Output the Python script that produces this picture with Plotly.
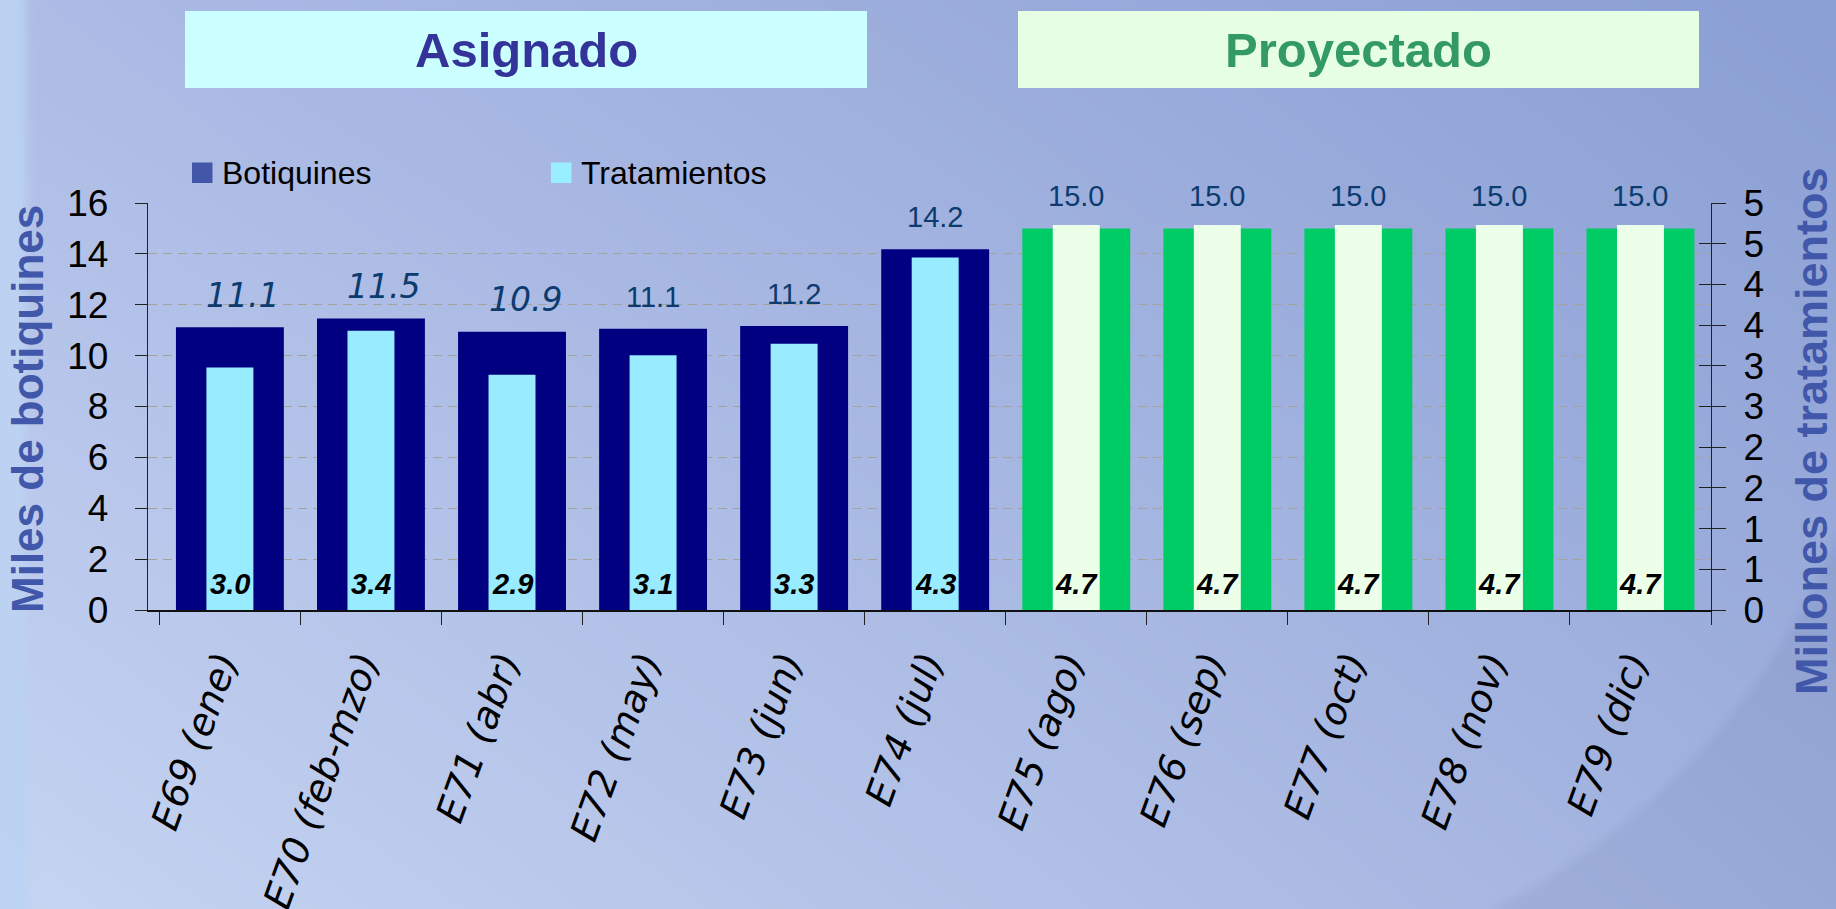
import base64
import struct
import zlib

import numpy as np
import plotly.graph_objects as go

# ---------------- data ----------------
categories = ["E69 (ene)", "E70 (feb-mzo)", "E71 (abr)", "E72 (may)", "E73 (jun)",
              "E74 (jul)", "E75 (ago)", "E76 (sep)", "E77 (oct)", "E78 (nov)", "E79 (dic)"]
botiquines = [11.12, 11.46, 10.94, 11.06, 11.16, 14.18, 15.0, 15.0, 15.0, 15.0, 15.0]
tratamientos = [2.98, 3.43, 2.89, 3.13, 3.27, 4.33, 4.73, 4.73, 4.73, 4.73, 4.73]
n_asignado = 6  # first six periods are "Asignado", the rest "Proyectado"
left_tickvals = [0, 2, 4, 6, 8, 10, 12, 14, 16]
right_tickvals = [0, 0.5, 1, 1.5, 2, 2.5, 3, 3.5, 4, 4.5, 5]
right_ticktext = ["0", "1", "1", "2", "2", "3", "3", "4", "4", "5", "5"]
group_titles = ["Asignado", "Proyectado"]
legend_names = ["Botiquines", "Tratamientos"]

# ---------------- geometry / style ----------------
W, H = 1836, 909
ML, MR, MT, MB = 148, 125, 203, 299
PW, PH = W - ML - MR, H - MT - MB

NAVY = "#000080"
CYAN = "#99EBFF"
GREEN = "#00CC66"
PALEGREEN = "#EBFFE9"
TITLE_BLUE = "#4157A9"
LABEL_BLUE = "#0B3B6F"
n_italic_labels = 3

SANS = "Liberation Sans, Arial, sans-serif"
WIDE = "DejaVu Sans, Verdana, sans-serif"


def px_x(px):
    return (px - ML) / PW


def px_y(py):
    return (H - MB - py) / PH


# ---------------- background image ----------------
def background(w=459, h=227):
    X = np.linspace(0, 1, w)[None, :, None]
    Y = np.linspace(0, 1, h)[:, None, None]
    tl = np.array([174, 188, 230.0])
    tr = np.array([138, 159, 212.0])
    bl = np.array([198, 213, 242.0])
    br = np.array([162, 178, 223.0])
    col = ((1 - X) * (1 - Y) * tl + X * (1 - Y) * tr + (1 - X) * Y * bl + X * Y * br)
    xpx = np.linspace(0, W, w)[None, :]
    ypx = np.linspace(0, H, h)[:, None]
    strip = 1.0 / (1.0 + np.exp((xpx - 24) / 3.0))
    col = col * (1 - strip[..., None]) + np.array([188, 211, 244.0]) * strip[..., None]
    d = np.sqrt((xpx - 1159) ** 2 + (ypx - 256) ** 2) - 730
    arc = np.clip(d / 12.0, 0, 1) * (xpx > 1200)
    col = col - 9 * arc[..., None]
    return np.clip(col, 0, 255).astype(np.uint8)


def png_uri(arr):
    h, w, _ = arr.shape
    raw = b"".join(b"\x00" + arr[i].tobytes() for i in range(h))

    def chunk(tag, data):
        c = struct.pack(">I", len(data)) + tag + data
        return c + struct.pack(">I", zlib.crc32(tag + data) & 0xFFFFFFFF)

    png = (b"\x89PNG\r\n\x1a\n"
           + chunk(b"IHDR", struct.pack(">IIBBBBB", w, h, 8, 2, 0, 0, 0))
           + chunk(b"IDAT", zlib.compress(raw, 9))
           + chunk(b"IEND", b""))
    return "data:image/png;base64," + base64.b64encode(png).decode()


# ---------------- traces ----------------
n = len(categories)
bot_colors = [NAVY if i < n_asignado else GREEN for i in range(n)]
tra_colors = [CYAN if i < n_asignado else PALEGREEN for i in range(n)]

fig = go.Figure()
fig.add_trace(go.Bar(x=categories, y=botiquines, name=legend_names[0], yaxis="y",
                     marker=dict(color=bot_colors, line=dict(width=0)), width=0.765,
                     showlegend=False))
fig.add_trace(go.Bar(x=categories, y=tratamientos, name=legend_names[1], yaxis="y2",
                     marker=dict(color=tra_colors, line=dict(width=0)), width=0.333,
                     showlegend=False))
# helper trace so the inner tick axis is rendered
fig.add_trace(go.Scatter(x=[categories[0]], y=[None], yaxis="y3", showlegend=False,
                         hoverinfo="skip", mode="markers"))

annotations = []
for i, (c, v) in enumerate(zip(categories, botiquines)):
    italic = i < n_italic_labels
    annotations.append(dict(
        x=c, y=v, xref="x", yref="y", text=f"{v:.1f}", showarrow=False,
        yanchor="middle", yshift=32, xshift=13 if italic else 0,
        font=dict(family=WIDE if italic else SANS, size=33 if italic else 29,
                  color=LABEL_BLUE, style="italic" if italic else "normal")))
for c, v in zip(categories, tratamientos):
    annotations.append(dict(
        x=c, y=0, xref="x", yref="y2", text=f"{v:.1f}", showarrow=False,
        yanchor="middle", yshift=26,
        font=dict(family=SANS, size=29, color="black", weight="bold", style="italic")))

# group title boxes
shapes = []
boxes = [(185, 867, "#CCFFFF", "#333399"), (1018, 1699, "#E6FFE4", "#339966")]
for (x0, x1, fill, tcol), title in zip(boxes, group_titles):
    shapes.append(dict(type="rect", xref="paper", yref="paper",
                       x0=px_x(x0), x1=px_x(x1), y0=px_y(88), y1=px_y(11),
                       fillcolor=fill, line=dict(width=0), layer="below"))
    annotations.append(dict(x=px_x((x0 + x1) / 2), y=px_y(50), xref="paper", yref="paper",
                            text=f"<b>{title}</b>", showarrow=False,
                            xanchor="center", yanchor="middle",
                            font=dict(family=SANS, size=49, color=tcol)))

# manual legend
legend_items = [(192, "#4357A9"), (551, "#99EEFF")]
for (lx, lcol), name in zip(legend_items, legend_names):
    shapes.append(dict(type="rect", xref="paper", yref="paper",
                       x0=px_x(lx), x1=px_x(lx + 20.5), y0=px_y(183), y1=px_y(162.5),
                       fillcolor=lcol, line=dict(width=0)))
    annotations.append(dict(x=px_x(lx + 28), y=px_y(172.5), xref="paper", yref="paper",
                            text=name, showarrow=False, xanchor="left", yanchor="middle",
                            font=dict(family=SANS, size=32, color="black")))

# axis titles
annotations.append(dict(x=px_x(27), y=px_y(409), xref="paper", yref="paper",
                        text="<b>Miles de botiquines</b>", textangle=-90, showarrow=False,
                        xanchor="center", yanchor="middle",
                        font=dict(family=SANS, size=44, color=TITLE_BLUE)))
annotations.append(dict(x=px_x(1811), y=px_y(431), xref="paper", yref="paper",
                        text="<b>Millones de tratamientos</b>", textangle=-90, showarrow=False,
                        xanchor="center", yanchor="middle",
                        font=dict(family=SANS, size=45, color=TITLE_BLUE)))

images = [dict(source=png_uri(background()), xref="paper", yref="paper",
               x=-ML / PW, y=1 + MT / PH, sizex=W / PW, sizey=H / PH,
               xanchor="left", yanchor="top", sizing="stretch", layer="below")]

fig.update_layout(
    template="none",
    width=W, height=H,
    margin=dict(l=ML, r=MR, t=MT, b=MB, autoexpand=False),
    paper_bgcolor="#ABBBE3",
    plot_bgcolor="rgba(0,0,0,0)",
    barmode="overlay",
    showlegend=False,
    font=dict(family=SANS, color="black"),
    xaxis=dict(type="category", tickson="boundaries", ticks="outside", ticklen=13,
               tickwidth=1.3, tickcolor="#222", showline=True, linecolor="#111",
               linewidth=1.5, showgrid=False, tickangle=-70, automargin=False,
               tickfont=dict(family=WIDE, size=38, color="black", style="italic"),
               ticklabelstandoff=14, ticklabelshift=-9),
    yaxis=dict(range=[0, 16], tickvals=left_tickvals, ticks="outside", ticklen=12,
               tickwidth=1.3, tickcolor="#222", showline=True, linecolor="#222",
               linewidth=1.3, showgrid=True, gridcolor="#A3A39C", gridwidth=1.4,
               griddash="9px,6px", zeroline=False, automargin=False,
               tickfont=dict(family=SANS, size=37, color="black"), ticklabelstandoff=19),
    yaxis2=dict(range=[0, 5], overlaying="y", side="right", tickvals=right_tickvals,
                ticktext=right_ticktext, ticks="outside", ticklen=14, tickwidth=1.3,
                tickcolor="#222", showline=True, linecolor="#222", linewidth=1.3,
                showgrid=False, zeroline=False, automargin=False,
                tickfont=dict(family=SANS, size=37, color="black"), ticklabelstandoff=10),
    yaxis3=dict(range=[0, 5], overlaying="y", side="right", anchor="x",
                tickvals=right_tickvals, ticks="inside", ticklen=12, tickwidth=1.3,
                tickcolor="#222", showticklabels=False, showline=False, showgrid=False,
                zeroline=False, automargin=False),
    shapes=shapes,
    annotations=annotations,
    images=images,
)

fig.write_html(
    "out.html",
    config={"displayModeBar": False},
    post_script="document.body.style.margin='0';document.body.style.overflow='hidden';",
)
